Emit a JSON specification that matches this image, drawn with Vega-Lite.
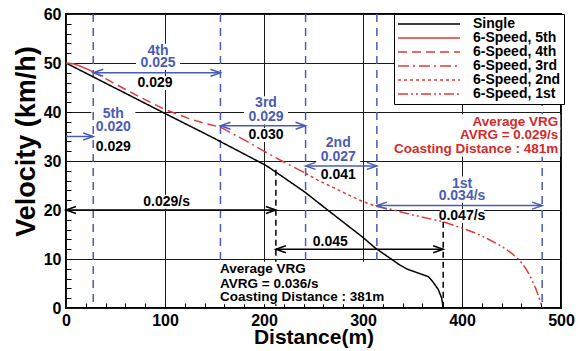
{
  "$schema": "https://vega.github.io/schema/vega-lite/v6.json",
  "width": 495,
  "height": 294,
  "autosize": {"type": "none"},
  "padding": {"left": 66, "top": 14, "right": 24, "bottom": 43},
  "background": "#ffffff",
  "config": {
    "font": "Liberation Sans",
    "view": {"stroke": "#000000", "strokeWidth": 2},
    "axis": {
      "domain": false,
      "gridColor": "#1a1a1a",
      "gridWidth": 1,
      "gridOpacity": 1,
      "labelFont": "Liberation Sans",
      "labelFontSize": 16,
      "labelFontWeight": "bold",
      "labelColor": "#000000",
      "labelFlush": false,
      "labelOverlap": false,
      "labelBound": false,
      "titleFont": "Liberation Sans",
      "titleFontWeight": "bold",
      "titleColor": "#000000",
      "tickColor": "#000000"
    }
  },
  "datasets": {
    "curves": [
      {"dist": 0, "vel": 50, "series": "Single"},
      {"dist": 100, "vel": 39.7, "series": "Single"},
      {"dist": 150, "vel": 34.6, "series": "Single"},
      {"dist": 200, "vel": 29.3, "series": "Single"},
      {"dist": 205, "vel": 28.7, "series": "Single"},
      {"dist": 241, "vel": 23.7, "series": "Single"},
      {"dist": 263, "vel": 20.2, "series": "Single"},
      {"dist": 300, "vel": 14.4, "series": "Single"},
      {"dist": 312, "vel": 12.3, "series": "Single"},
      {"dist": 337, "vel": 8.8, "series": "Single"},
      {"dist": 345, "vel": 7.9, "series": "Single"},
      {"dist": 366, "vel": 6.4, "series": "Single"},
      {"dist": 370, "vel": 5.5, "series": "Single"},
      {"dist": 376, "vel": 3.8, "series": "Single"},
      {"dist": 379.5, "vel": 2.0, "series": "Single"},
      {"dist": 381, "vel": 0, "series": "Single"},
      {"dist": 0, "vel": 50, "series": "6-Speed, 5th"},
      {"dist": 8, "vel": 49.8, "series": "6-Speed, 5th"},
      {"dist": 15, "vel": 49.3, "series": "6-Speed, 5th"},
      {"dist": 22, "vel": 48.7, "series": "6-Speed, 5th"},
      {"dist": 27.5, "vel": 48.2, "series": "6-Speed, 5th"},
      {"dist": 27.5, "vel": 48.2, "series": "6-Speed, 4th"},
      {"dist": 50, "vel": 45.7, "series": "6-Speed, 4th"},
      {"dist": 75, "vel": 43.0, "series": "6-Speed, 4th"},
      {"dist": 100, "vel": 40.5, "series": "6-Speed, 4th"},
      {"dist": 125, "vel": 38.6, "series": "6-Speed, 4th"},
      {"dist": 140, "vel": 37.7, "series": "6-Speed, 4th"},
      {"dist": 156, "vel": 36.9, "series": "6-Speed, 4th"},
      {"dist": 156, "vel": 36.9, "series": "6-Speed, 3rd"},
      {"dist": 180, "vel": 34.3, "series": "6-Speed, 3rd"},
      {"dist": 200, "vel": 32.0, "series": "6-Speed, 3rd"},
      {"dist": 220, "vel": 29.8, "series": "6-Speed, 3rd"},
      {"dist": 242, "vel": 27.5, "series": "6-Speed, 3rd"},
      {"dist": 242, "vel": 27.5, "series": "6-Speed, 2nd"},
      {"dist": 255, "vel": 26.0, "series": "6-Speed, 2nd"},
      {"dist": 270, "vel": 24.6, "series": "6-Speed, 2nd"},
      {"dist": 285, "vel": 23.1, "series": "6-Speed, 2nd"},
      {"dist": 300, "vel": 21.7, "series": "6-Speed, 2nd"},
      {"dist": 314, "vel": 20.7, "series": "6-Speed, 2nd"},
      {"dist": 314, "vel": 20.7, "series": "6-Speed, 1st"},
      {"dist": 327, "vel": 20.2, "series": "6-Speed, 1st"},
      {"dist": 350, "vel": 19.0, "series": "6-Speed, 1st"},
      {"dist": 381, "vel": 17.6, "series": "6-Speed, 1st"},
      {"dist": 400, "vel": 16.3, "series": "6-Speed, 1st"},
      {"dist": 415, "vel": 15.2, "series": "6-Speed, 1st"},
      {"dist": 425, "vel": 14.2, "series": "6-Speed, 1st"},
      {"dist": 440, "vel": 12.6, "series": "6-Speed, 1st"},
      {"dist": 450, "vel": 11.2, "series": "6-Speed, 1st"},
      {"dist": 458, "vel": 9.8, "series": "6-Speed, 1st"},
      {"dist": 465, "vel": 7.9, "series": "6-Speed, 1st"},
      {"dist": 470, "vel": 6.0, "series": "6-Speed, 1st"},
      {"dist": 475, "vel": 3.7, "series": "6-Speed, 1st"},
      {"dist": 478, "vel": 2.0, "series": "6-Speed, 1st"},
      {"dist": 481, "vel": 0, "series": "6-Speed, 1st"}
    ],
    "shifts": [
      {"at": 27.5}, {"at": 156}, {"at": 242}, {"at": 314}, {"at": 481}
    ],
    "stops": [
      {"at": 212, "vel": 28.2},
      {"at": 381, "vel": 17.6}
    ],
    "arrows": [
      {"x1": 0, "x2": 27.5, "y": 35, "kind": "gear", "heads": "end"},
      {"x1": 27.5, "x2": 156, "y": 48, "kind": "gear", "heads": "both"},
      {"x1": 156, "x2": 242, "y": 37.2, "kind": "gear", "heads": "both"},
      {"x1": 242, "x2": 314, "y": 29, "kind": "gear", "heads": "both"},
      {"x1": 314, "x2": 481, "y": 20.9, "kind": "gear", "heads": "both"},
      {"x1": 0, "x2": 212, "y": 20, "kind": "single", "heads": "both"},
      {"x1": 212, "x2": 381, "y": 12, "kind": "single", "heads": "both"}
    ],
    "labels": [
      {"x": 47.8, "y": 39.5, "text": "5th", "kind": "gear"},
      {"x": 47.8, "y": 36.9, "text": "0.020", "kind": "gear"},
      {"x": 93, "y": 52.5, "text": "4th", "kind": "gear"},
      {"x": 93, "y": 50.0, "text": "0.025", "kind": "gear"},
      {"x": 202, "y": 41.8, "text": "3rd", "kind": "gear"},
      {"x": 202, "y": 38.9, "text": "0.029", "kind": "gear"},
      {"x": 275, "y": 33.7, "text": "2nd", "kind": "gear"},
      {"x": 275, "y": 30.9, "text": "0.027", "kind": "gear"},
      {"x": 400, "y": 25.4, "text": "1st", "kind": "gear"},
      {"x": 400, "y": 22.9, "text": "0.034/s", "kind": "gear"},
      {"x": 47.8, "y": 32.9, "text": "0.029", "kind": "single"},
      {"x": 90, "y": 45.9, "text": "0.029", "kind": "single"},
      {"x": 202, "y": 35.3, "text": "0.030", "kind": "single"},
      {"x": 275, "y": 27.1, "text": "0.041", "kind": "single"},
      {"x": 400, "y": 18.8, "text": "0.047/s", "kind": "single"},
      {"x": 101.7, "y": 21.7, "text": "0.029/s", "kind": "single"},
      {"x": 267, "y": 13.5, "text": "0.045", "kind": "single"},
      {"x": 155.6, "y": 7.9, "text": "Average VRG", "kind": "single_summary"},
      {"x": 155.6, "y": 5.0, "text": "AVRG = 0.036/s", "kind": "single_summary"},
      {"x": 155.6, "y": 2.3, "text": "Coasting Distance : 381m", "kind": "single_summary"},
      {"x": 497.3, "y": 38.0, "text": "Average VRG", "kind": "six_summary"},
      {"x": 497.3, "y": 35.3, "text": "AVRG = 0.029/s", "kind": "six_summary"},
      {"x": 497.3, "y": 32.4, "text": "Coasting Distance : 481m", "kind": "six_summary"}
    ]
  },
  "resolve": {"axis": {"x": "independent", "y": "independent"}},
  "layer": [
    {
      "data": {"name": "labels"},
      "transform": [{"filter": "datum.kind == 'gear' || datum.kind == 'single'"}],
      "mark": {"type": "rect", "color": "#ffffff", "width": 44, "height": 14},
      "encoding": {
        "x": {
          "field": "x", "type": "quantitative",
          "scale": {"domain": [0, 500], "nice": false},
          "axis": {
            "orient": "bottom",
            "values": [0, 100, 200, 300, 400, 500],
            "grid": true,
            "ticks": false,
            "labelPadding": 4,
            "title": "Distance(m)",
            "titleFontSize": 21,
            "titlePadding": -2
          }
        },
        "y": {
          "field": "y", "type": "quantitative",
          "scale": {"domain": [0, 60], "nice": false},
          "axis": {
            "orient": "left",
            "values": [0, 10, 20, 30, 40, 50, 60],
            "grid": true,
            "ticks": false,
            "labelPadding": 5,
            "title": "Velocity (km/h)",
            "titleFontSize": 27,
            "titlePadding": 3,
            "titleY": 127
          }
        }
      }
    },
    {
      "data": {"name": "shifts"},
      "mark": {"type": "rule", "color": "#4a5cb5", "strokeWidth": 1.5, "strokeDash": [8, 6]},
      "encoding": {
        "x": {"field": "at", "type": "quantitative", "axis": null}
      }
    },
    {
      "data": {"name": "stops"},
      "mark": {"type": "rule", "color": "#000000", "strokeWidth": 1.5, "strokeDash": [6, 4]},
      "encoding": {
        "x": {"field": "at", "type": "quantitative", "axis": null},
        "y": {"field": "vel", "type": "quantitative", "axis": null},
        "y2": {"datum": 0}
      }
    },
    {
      "data": {"name": "labels"},
      "transform": [{"filter": "datum.kind == 'single_summary'"}],
      "mark": {"type": "rect", "color": "#ffffff", "width": 172, "height": 15, "xOffset": 84},
      "encoding": {
        "x": {"field": "x", "type": "quantitative", "axis": null},
        "y": {"field": "y", "type": "quantitative", "axis": null}
      }
    },
    {
      "data": {"name": "labels"},
      "transform": [{"filter": "datum.kind == 'six_summary'"}],
      "mark": {"type": "rect", "color": "#ffffff", "width": 172, "height": 15, "xOffset": -84},
      "encoding": {
        "x": {"field": "x", "type": "quantitative", "axis": null},
        "y": {"field": "y", "type": "quantitative", "axis": null}
      }
    },
    {
      "data": {"name": "curves"},
      "mark": {"type": "line", "strokeWidth": 1.5},
      "encoding": {
        "x": {
          "field": "dist", "type": "quantitative",
          "axis": {
            "orient": "bottom",
            "values": [20, 40, 60, 80, 100, 120, 140, 160, 180, 200, 220, 240, 260, 280, 300, 320, 340, 360, 380, 400, 420, 440, 460, 480],
            "labels": false, "grid": false, "domain": false,
            "tickSize": -5, "tickWidth": 1, "title": null
          }
        },
        "y": {
          "field": "vel", "type": "quantitative",
          "axis": {
            "orient": "left",
            "values": [2, 4, 6, 8, 10, 12, 14, 16, 18, 20, 22, 24, 26, 28, 30, 32, 34, 36, 38, 40, 42, 44, 46, 48, 50, 52, 54, 56, 58],
            "labels": false, "grid": false, "domain": false,
            "tickSize": -5, "tickWidth": 1, "title": null
          }
        },
        "color": {
          "field": "series", "type": "nominal",
          "scale": {
            "domain": ["Single", "6-Speed, 5th", "6-Speed, 4th", "6-Speed, 3rd", "6-Speed, 2nd", "6-Speed, 1st"],
            "range": ["#000000", "#e03a3a", "#e03a3a", "#e03a3a", "#e03a3a", "#e03a3a"]
          },
          "legend": {
            "orient": "none",
            "legendX": 328,
            "legendY": 0,
            "title": null,
            "symbolType": "stroke",
            "symbolSize": 3844,
            "symbolStrokeWidth": 1.5,
            "clipHeight": 14,
            "rowPadding": 0,
            "padding": 3,
            "labelOffset": 12,
            "labelFontSize": 14,
            "labelFontWeight": "bold",
            "labelColor": "#000000",
            "labelLimit": 0,
            "strokeColor": "#000000",
            "fillColor": "#ffffff"
          }
        },
        "strokeDash": {
          "field": "series", "type": "nominal",
          "scale": {
            "domain": ["Single", "6-Speed, 5th", "6-Speed, 4th", "6-Speed, 3rd", "6-Speed, 2nd", "6-Speed, 1st"],
            "range": [[1, 0], [1, 0], [9, 5], [11, 4, 2, 4], [3, 3], [10, 3, 2, 3, 2, 3]]
          }
        }
      }
    },
    {
      "data": {"name": "arrows"},
      "transform": [{"filter": "datum.kind == 'gear'"}],
      "mark": {"type": "rule", "color": "#4a5cb5", "strokeWidth": 1.5},
      "encoding": {
        "x": {"field": "x1", "type": "quantitative", "axis": null},
        "x2": {"field": "x2"},
        "y": {"field": "y", "type": "quantitative", "axis": null}
      }
    },
    {
      "data": {"name": "arrows"},
      "transform": [{"filter": "datum.kind == 'single'"}],
      "mark": {"type": "rule", "color": "#000000", "strokeWidth": 1.5},
      "encoding": {
        "x": {"field": "x1", "type": "quantitative", "axis": null},
        "x2": {"field": "x2"},
        "y": {"field": "y", "type": "quantitative", "axis": null}
      }
    },
    {
      "data": {"name": "arrows"},
      "transform": [
        {"filter": "datum.kind == 'gear'"},
        {"fold": ["x1", "x2"], "as": ["end", "pos"]},
        {"filter": "datum.heads == 'both' || datum.end == 'x2'"}
      ],
      "mark": {"type": "point", "filled": false, "color": "#4a5cb5", "strokeWidth": 1.5, "size": 400, "opacity": 1},
      "encoding": {
        "x": {"field": "pos", "type": "quantitative", "axis": null},
        "y": {"field": "y", "type": "quantitative", "axis": null},
        "shape": {
          "field": "end", "type": "nominal",
          "scale": {"domain": ["x1", "x2"], "range": ["M1,-0.35L0,0L1,0.35", "M-1,-0.35L0,0L-1,0.35"]},
          "legend": null
        }
      }
    },
    {
      "data": {"name": "arrows"},
      "transform": [
        {"filter": "datum.kind == 'single'"},
        {"fold": ["x1", "x2"], "as": ["end", "pos"]},
        {"filter": "datum.heads == 'both' || datum.end == 'x2'"}
      ],
      "mark": {"type": "point", "filled": false, "color": "#000000", "strokeWidth": 1.5, "size": 400, "opacity": 1},
      "encoding": {
        "x": {"field": "pos", "type": "quantitative", "axis": null},
        "y": {"field": "y", "type": "quantitative", "axis": null},
        "shape": {
          "field": "end", "type": "nominal",
          "scale": {"domain": ["x1", "x2"], "range": ["M1,-0.35L0,0L1,0.35", "M-1,-0.35L0,0L-1,0.35"]},
          "legend": null
        }
      }
    },
    {
      "data": {"name": "labels"},
      "transform": [{"filter": "datum.kind == 'gear'"}],
      "mark": {"type": "text", "fontSize": 14, "fontWeight": "bold", "baseline": "middle", "align": "center", "color": "#4a5cb5"},
      "encoding": {
        "x": {"field": "x", "type": "quantitative", "axis": null},
        "y": {"field": "y", "type": "quantitative", "axis": null},
        "text": {"field": "text"}
      }
    },
    {
      "data": {"name": "labels"},
      "transform": [{"filter": "datum.kind == 'single'"}],
      "mark": {"type": "text", "fontSize": 14, "fontWeight": "bold", "baseline": "middle", "align": "center", "color": "#000000"},
      "encoding": {
        "x": {"field": "x", "type": "quantitative", "axis": null},
        "y": {"field": "y", "type": "quantitative", "axis": null},
        "text": {"field": "text"}
      }
    },
    {
      "data": {"name": "labels"},
      "transform": [{"filter": "datum.kind == 'single_summary'"}],
      "mark": {"type": "text", "fontSize": 13.5, "fontWeight": "bold", "baseline": "middle", "align": "left", "color": "#000000"},
      "encoding": {
        "x": {"field": "x", "type": "quantitative", "axis": null},
        "y": {"field": "y", "type": "quantitative", "axis": null},
        "text": {"field": "text"}
      }
    },
    {
      "data": {"name": "labels"},
      "transform": [{"filter": "datum.kind == 'six_summary'"}],
      "mark": {"type": "text", "fontSize": 13.5, "fontWeight": "bold", "baseline": "middle", "align": "right", "color": "#d42a2a"},
      "encoding": {
        "x": {"field": "x", "type": "quantitative", "axis": null},
        "y": {"field": "y", "type": "quantitative", "axis": null},
        "text": {"field": "text"}
      }
    }
  ]
}
